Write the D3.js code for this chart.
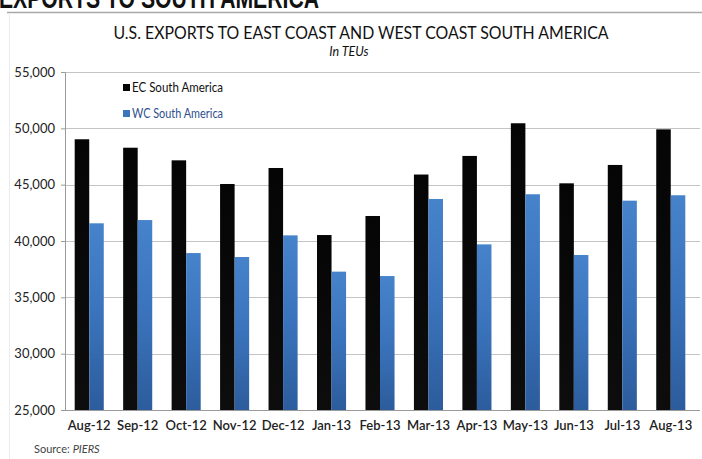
<!DOCTYPE html>
<html>
<head>
<meta charset="utf-8">
<script src="https://cdn.jsdelivr.net/npm/d3@7"></script>
<style>
  html, body { margin: 0; padding: 0; background: #fff; }
  svg { display: block; font-family: Lato, "Open Sans", sans-serif; }
</style>
</head>
<body>
<svg id="chart" width="702" height="459"></svg>
<script>
const categories = ["Aug-12","Sep-12","Oct-12","Nov-12","Dec-12","Jan-13","Feb-13","Mar-13","Apr-13","May-13","Jun-13","Jul-13","Aug-13"];
const ecValues = [49030, 48280, 47160, 45060, 46480, 40530, 42220, 45900, 47550, 50450, 45120, 46750, 49910];
const wcValues = [41570, 41860, 38930, 38580, 40500, 37280, 36890, 43730, 39700, 44150, 38760, 43580, 44060];
const seriesNames = ["EC South America", "WC South America"];
const yTicks = [25000, 30000, 35000, 40000, 45000, 50000, 55000];

const svg = d3.select("#chart");
const m = { left: 65, right: 695, top: 72, bottom: 410 };

const defs = svg.append("defs");
const gBlue = defs.append("linearGradient").attr("id", "gBlue").attr("x1", 0).attr("y1", 0).attr("x2", 0).attr("y2", 1);
gBlue.append("stop").attr("offset", "0%").attr("stop-color", "#4683cb");
gBlue.append("stop").attr("offset", "50%").attr("stop-color", "#3a73bb");
gBlue.append("stop").attr("offset", "100%").attr("stop-color", "#2c5c9c");
const gBlack = defs.append("linearGradient").attr("id", "gBlack").attr("x1", 0).attr("y1", 0).attr("x2", 0).attr("y2", 1);
gBlack.append("stop").attr("offset", "0%").attr("stop-color", "#050505");
gBlack.append("stop").attr("offset", "100%").attr("stop-color", "#0d0d0d");

// cut-off page header (only its lower part shows, as in the reference)
svg.append("text")
  .attr("x", -1).attr("y", 8)
  .attr("font-size", 30).attr("font-weight", 900)
  .attr("font-family", "'Liberation Sans', Arial, sans-serif")
  .attr("textLength", 320).attr("lengthAdjust", "spacingAndGlyphs")
  .attr("fill", "#111")
  .text("EXPORTS TO SOUTH AMERICA");
svg.append("line").attr("x1", 7).attr("x2", 702).attr("y1", 12.5).attr("y2", 12.5)
  .attr("stroke", "#a8a8a8").attr("stroke-width", 1.5);
svg.append("line").attr("x1", 9.5).attr("x2", 9.5).attr("y1", 13).attr("y2", 459)
  .attr("stroke", "#ececec").attr("stroke-width", 1);

// titles
svg.append("text").attr("x", 361).attr("y", 39).attr("text-anchor", "middle")
  .attr("font-size", 17.5).attr("fill", "#111")
  .attr("textLength", 495).attr("lengthAdjust", "spacingAndGlyphs")
  .text("U.S. EXPORTS TO EAST COAST AND WEST COAST SOUTH AMERICA");
svg.append("text").attr("x", 349).attr("y", 56).attr("text-anchor", "middle")
  .attr("font-size", 12.5).attr("font-style", "italic").attr("fill", "#111")
  .text("In TEUs");

const x = d3.scaleBand().domain(categories).range([m.left, m.right]).paddingInner(0.4).paddingOuter(0.2);
const xs = d3.scaleBand().domain([0, 1]).range([0, x.bandwidth()]);
const y = d3.scaleLinear().domain([25000, 55000]).range([m.bottom, m.top]);

// gridlines
svg.append("g").selectAll("line").data(yTicks.slice(1)).join("line")
  .attr("x1", m.left).attr("x2", 700)
  .attr("y1", d => Math.round(y(d)) + 0.5).attr("y2", d => Math.round(y(d)) + 0.5)
  .attr("stroke", "#c4c4c4").attr("stroke-width", 1);

// y axis
const yAxis = svg.append("g").attr("transform", `translate(${m.left},0)`)
  .call(d3.axisLeft(y).tickValues(yTicks).tickFormat(d3.format(",")).tickSize(4).tickPadding(6));
yAxis.select(".domain").attr("stroke", "#9a9a9a");
yAxis.selectAll(".tick line").attr("stroke", "#9a9a9a");
yAxis.selectAll("text").attr("font-size", 13).attr("fill", "#222")
  .attr("font-family", "Lato, sans-serif");

// bars
const data = categories.map((c, i) => ({ c, v: [ecValues[i], wcValues[i]] }));
const groups = svg.append("g").selectAll("g").data(data).join("g")
  .attr("transform", d => `translate(${x(d.c)},0)`);
groups.selectAll("rect").data(d => d.v.map((v, k) => ({ v, k }))).join("rect")
  .attr("x", d => xs(d.k))
  .attr("width", xs.bandwidth())
  .attr("y", d => y(d.v))
  .attr("height", d => y(25000) - y(d.v))
  .attr("fill", d => d.k === 0 ? "url(#gBlack)" : "url(#gBlue)");

// x axis
const xAxis = svg.append("g").attr("transform", `translate(0,${m.bottom})`)
  .call(d3.axisBottom(x).tickSize(0).tickPadding(11));
xAxis.select(".domain").attr("stroke", "#9a9a9a").attr("d", `M${m.left},0.5H700`);
xAxis.selectAll("text").attr("font-size", 13).attr("fill", "#222")
  .attr("font-weight", 600).attr("font-family", "Lato, sans-serif");

// legend
const legend = svg.append("g");
const legY = [92, 118];
const legColors = ["#050505", "#3a74bd"];
const legText = ["#111", "#2f4f8f"];
seriesNames.forEach((name, i) => {
  legend.append("rect").attr("x", 123).attr("y", legY[i] - 8).attr("width", 7).attr("height", 7)
    .attr("fill", legColors[i]);
  legend.append("text").attr("x", 132).attr("y", legY[i]).attr("font-size", 12.5)
    .attr("textLength", 91).attr("lengthAdjust", "spacingAndGlyphs")
    .attr("fill", legText[i]).text(name);
});

// source
const src = svg.append("text").attr("x", 34).attr("y", 453).attr("font-size", 11).attr("fill", "#444");
src.append("tspan").text("Source: ");
src.append("tspan").attr("font-style", "italic").text("PIERS");
</script>
</body>
</html>
